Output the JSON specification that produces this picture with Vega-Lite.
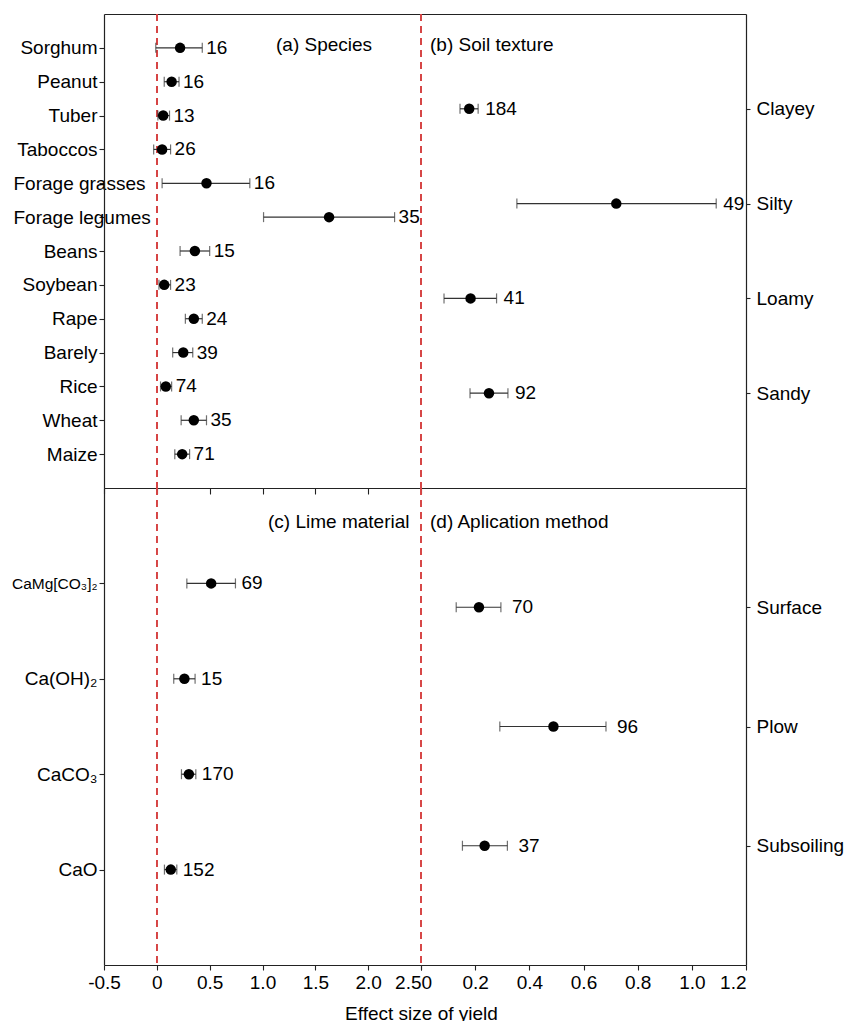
{
  "$schema": "https://vega.github.io/schema/vega-lite/v6.json",
  "padding": {"left": 11, "top": 13, "right": 0, "bottom": 0},
  "background": "white",
  "config": {
    "font": "Liberation Sans",
    "view": {"stroke": null},
    "axis": {"grid": false, "domainColor": "#222", "domainWidth": 1.2, "tickColor": "#222", "tickWidth": 1.1, "labelColor": "black", "labelFontSize": 19, "titleColor": "black", "titleFontSize": 19, "titleFontWeight": "normal"},
    "title": {"fontSize": 19, "fontWeight": "normal", "color": "black", "anchor": "start", "frame": "group", "offset": 0, "baseline": "middle"},
    "text": {"fontSize": 19, "color": "black"}
  },
  "datasets": {
    "species": [
      {"cat": "Sorghum", "est": 0.22, "lo": -0.01, "hi": 0.43, "n": 16},
      {"cat": "Peanut", "est": 0.14, "lo": 0.07, "hi": 0.21, "n": 16},
      {"cat": "Tuber", "est": 0.06, "lo": 0.01, "hi": 0.12, "n": 13},
      {"cat": "Taboccos", "est": 0.05, "lo": -0.03, "hi": 0.13, "n": 26},
      {"cat": "Forage grasses", "est": 0.47, "lo": 0.05, "hi": 0.88, "n": 16},
      {"cat": "Forage legumes", "est": 1.63, "lo": 1.01, "hi": 2.25, "n": 35},
      {"cat": "Beans", "est": 0.36, "lo": 0.22, "hi": 0.5, "n": 15},
      {"cat": "Soybean", "est": 0.07, "lo": 0.02, "hi": 0.13, "n": 23},
      {"cat": "Rape", "est": 0.35, "lo": 0.27, "hi": 0.43, "n": 24},
      {"cat": "Barely", "est": 0.25, "lo": 0.15, "hi": 0.34, "n": 39},
      {"cat": "Rice", "est": 0.085, "lo": 0.035, "hi": 0.14, "n": 74},
      {"cat": "Wheat", "est": 0.35, "lo": 0.23, "hi": 0.47, "n": 35},
      {"cat": "Maize", "est": 0.24, "lo": 0.17, "hi": 0.31, "n": 71}
    ],
    "soil": [
      {"cat": "Clayey", "est": 0.178, "lo": 0.144, "hi": 0.211, "n": 184},
      {"cat": "Silty", "est": 0.721, "lo": 0.354, "hi": 1.09, "n": 49},
      {"cat": "Loamy", "est": 0.183, "lo": 0.085, "hi": 0.279, "n": 41},
      {"cat": "Sandy", "est": 0.251, "lo": 0.181, "hi": 0.321, "n": 92}
    ],
    "lime": [
      {"cat": "CaMg[CO₃]₂", "est": 0.514, "lo": 0.284, "hi": 0.744, "n": 69},
      {"cat": "Ca(OH)₂", "est": 0.261, "lo": 0.16, "hi": 0.362, "n": 15},
      {"cat": "CaCO₃", "est": 0.303, "lo": 0.233, "hi": 0.369, "n": 170},
      {"cat": "CaO", "est": 0.132, "lo": 0.072, "hi": 0.189, "n": 152}
    ],
    "method": [
      {"cat": "Surface", "est": 0.214, "lo": 0.13, "hi": 0.295, "n": 70},
      {"cat": "Plow", "est": 0.489, "lo": 0.291, "hi": 0.683, "n": 96},
      {"cat": "Subsoiling", "est": 0.235, "lo": 0.153, "hi": 0.319, "n": 37}
    ]
  },
  "columns": 2,
  "spacing": 0,
  "bounds": "flush",
  "concat": [
    {
      "width": 317, "height": 474,
      "data": {"name": "species"},
      "title": {"text": "(a) Species", "dx": 172, "dy": 46},
      "resolve": {"axis": {"x": "independent", "y": "independent"}},
      "layer": [
        {"mark": {"type": "rule", "color": "#d64545", "strokeDash": [7, 5], "strokeWidth": 1.5},
         "encoding": {"x": {"datum": 0, "type": "quantitative", "scale": {"domain": [-0.5, 2.5], "nice": false, "zero": false}, "axis": null}}},
        {"mark": {"type": "rule", "color": "#333", "strokeWidth": 1.2},
         "encoding": {
           "x": {"field": "lo", "type": "quantitative", "scale": {"domain": [-0.5, 2.5], "nice": false, "zero": false},
                 "axis": {"orient": "bottom", "values": [-0.5, 0, 0.5, 1, 1.5, 2, 2.5], "labels": false, "tickSize": 6, "title": null}},
           "x2": {"field": "hi"},
           "y": {"field": "cat", "type": "nominal",
                 "scale": {"type": "point", "padding": 1, "domain": ["Sorghum", "Peanut", "Tuber", "Taboccos", "Forage grasses", "Forage legumes", "Beans", "Soybean", "Rape", "Barely", "Rice", "Wheat", "Maize"]},
                 "axis": {"orient": "left", "title": null, "tickSize": 5,
                          "labelPadding": {"condition": {"test": "indexof(['Forage grasses', 'Forage legumes'], datum.value) >= 0", "value": 86}, "value": 2},
                          "labelAlign": {"condition": {"test": "indexof(['Forage grasses', 'Forage legumes'], datum.value) >= 0", "value": "left"}, "value": "right"}}}
         }},
        {"mark": {"type": "tick", "color": "#333", "thickness": 1.2, "size": 10},
         "encoding": {"x": {"field": "lo", "type": "quantitative", "axis": null}, "y": {"field": "cat", "type": "nominal", "axis": null}}},
        {"mark": {"type": "tick", "color": "#333", "thickness": 1.2, "size": 10},
         "encoding": {"x": {"field": "hi", "type": "quantitative", "axis": null}, "y": {"field": "cat", "type": "nominal", "axis": null}}},
        {"mark": {"type": "point", "filled": true, "color": "black", "opacity": 1, "size": 110},
         "encoding": {"x": {"field": "est", "type": "quantitative", "axis": {"orient": "top", "ticks": false, "labels": false, "title": null}},
                      "y": {"field": "cat", "type": "nominal", "axis": null}}},
        {"mark": {"type": "text", "align": "left", "baseline": "middle", "dx": 4},
         "encoding": {"x": {"field": "hi", "type": "quantitative", "axis": null}, "y": {"field": "cat", "type": "nominal", "axis": null}, "text": {"field": "n"}}}
      ]
    },
    {
      "width": 325, "height": 474,
      "data": {"name": "soil"},
      "title": {"text": "(b) Soil texture", "dx": 9, "dy": 46},
      "resolve": {"axis": {"x": "independent", "y": "independent"}},
      "layer": [
        {"mark": {"type": "rule", "color": "#d64545", "strokeDash": [7, 5], "strokeWidth": 1.5},
         "encoding": {"x": {"datum": 0, "type": "quantitative", "scale": {"domain": [0, 1.2], "nice": false}, "axis": null}}},
        {"mark": {"type": "rule", "color": "#333", "strokeWidth": 1.2},
         "encoding": {
           "x": {"field": "lo", "type": "quantitative", "scale": {"domain": [0, 1.2], "nice": false},
                 "axis": {"orient": "bottom", "ticks": false, "labels": false, "title": null}},
           "x2": {"field": "hi"},
           "y": {"field": "cat", "type": "nominal",
                 "scale": {"type": "point", "padding": 1, "domain": ["Clayey", "Silty", "Loamy", "Sandy"]},
                 "axis": {"orient": "right", "title": null, "tickSize": 4, "labelPadding": 6}}
         }},
        {"mark": {"type": "tick", "color": "#333", "thickness": 1.2, "size": 10},
         "encoding": {"x": {"field": "lo", "type": "quantitative", "axis": null}, "y": {"field": "cat", "type": "nominal", "axis": null}}},
        {"mark": {"type": "tick", "color": "#333", "thickness": 1.2, "size": 10},
         "encoding": {"x": {"field": "hi", "type": "quantitative", "axis": null}, "y": {"field": "cat", "type": "nominal", "axis": null}}},
        {"mark": {"type": "point", "filled": true, "color": "black", "opacity": 1, "size": 110},
         "encoding": {"x": {"field": "est", "type": "quantitative", "axis": {"orient": "top", "ticks": false, "labels": false, "title": null}},
                      "y": {"field": "cat", "type": "nominal", "axis": null}}},
        {"mark": {"type": "text", "align": "left", "baseline": "middle", "dx": 7},
         "encoding": {"x": {"field": "hi", "type": "quantitative", "axis": null}, "y": {"field": "cat", "type": "nominal", "axis": null}, "text": {"field": "n"}}}
      ]
    },
    {
      "width": 317, "height": 477,
      "data": {"name": "lime"},
      "title": {"text": "(c) Lime material", "dx": 164, "dy": 49},
      "resolve": {"axis": {"x": "independent", "y": "independent"}},
      "layer": [
        {"mark": {"type": "rule", "color": "#d64545", "strokeDash": [7, 5], "strokeWidth": 1.5},
         "encoding": {"x": {"datum": 0, "type": "quantitative", "scale": {"domain": [-0.5, 2.5], "nice": false, "zero": false}, "axis": null}}},
        {"mark": {"type": "rule", "color": "#333", "strokeWidth": 1.2},
         "encoding": {
           "x": {"field": "lo", "type": "quantitative", "scale": {"domain": [-0.5, 2.5], "nice": false, "zero": false},
                 "axis": {"orient": "bottom", "values": [-0.5, 0, 0.5, 1, 1.5, 2, 2.5], "tickSize": 5, "labelPadding": 3,
                          "labelExpr": "datum.value == 0 ? '0' : replace(format(datum.value, '.1f'), '\u2212', '-')",
                          "labelAlign": {"condition": {"test": "datum.value == 2.5", "value": "right"}, "value": "center"},
                          "title": "Effect size of yield", "titleX": 317, "titleY": 54, "titleAlign": "center", "titleBaseline": "alphabetic"}},
           "x2": {"field": "hi"},
           "y": {"field": "cat", "type": "nominal",
                 "scale": {"type": "point", "padding": 1, "domain": ["CaMg[CO₃]₂", "Ca(OH)₂", "CaCO₃", "CaO"]},
                 "axis": {"orient": "left", "title": null, "tickSize": 5, "labelPadding": 2,
                          "labelFontSize": {"condition": {"test": "datum.value == 'CaMg[CO₃]₂'", "value": 15.5}, "value": 19}}}
         }},
        {"mark": {"type": "tick", "color": "#333", "thickness": 1.2, "size": 10},
         "encoding": {"x": {"field": "lo", "type": "quantitative", "axis": null}, "y": {"field": "cat", "type": "nominal", "axis": null}}},
        {"mark": {"type": "tick", "color": "#333", "thickness": 1.2, "size": 10},
         "encoding": {"x": {"field": "hi", "type": "quantitative", "axis": null}, "y": {"field": "cat", "type": "nominal", "axis": null}}},
        {"mark": {"type": "point", "filled": true, "color": "black", "opacity": 1, "size": 110},
         "encoding": {"x": {"field": "est", "type": "quantitative", "axis": null}, "y": {"field": "cat", "type": "nominal", "axis": null}}},
        {"mark": {"type": "text", "align": "left", "baseline": "middle", "dx": 6},
         "encoding": {"x": {"field": "hi", "type": "quantitative", "axis": null}, "y": {"field": "cat", "type": "nominal", "axis": null}, "text": {"field": "n"}}}
      ]
    },
    {
      "width": 325, "height": 477,
      "data": {"name": "method"},
      "title": {"text": "(d) Aplication method", "dx": 9, "dy": 49},
      "resolve": {"axis": {"x": "independent", "y": "independent"}},
      "layer": [
        {"mark": {"type": "rule", "color": "#d64545", "strokeDash": [7, 5], "strokeWidth": 1.5},
         "encoding": {"x": {"datum": 0, "type": "quantitative", "scale": {"domain": [0, 1.2], "nice": false}, "axis": null}}},
        {"mark": {"type": "rule", "color": "#333", "strokeWidth": 1.2},
         "encoding": {
           "x": {"field": "lo", "type": "quantitative", "scale": {"domain": [0, 1.2], "nice": false},
                 "axis": {"orient": "bottom", "values": [0, 0.2, 0.4, 0.6, 0.8, 1, 1.2], "tickSize": 5, "labelPadding": 3, "labelFlush": true,
                          "labelExpr": "datum.value == 0 ? '0' : format(datum.value, '.1f')", "title": null}},
           "x2": {"field": "hi"},
           "y": {"field": "cat", "type": "nominal",
                 "scale": {"type": "point", "padding": 1, "domain": ["Surface", "Plow", "Subsoiling"]},
                 "axis": {"orient": "right", "title": null, "tickSize": 4, "labelPadding": 6}}
         }},
        {"mark": {"type": "tick", "color": "#333", "thickness": 1.2, "size": 10},
         "encoding": {"x": {"field": "lo", "type": "quantitative", "axis": null}, "y": {"field": "cat", "type": "nominal", "axis": null}}},
        {"mark": {"type": "tick", "color": "#333", "thickness": 1.2, "size": 10},
         "encoding": {"x": {"field": "hi", "type": "quantitative", "axis": null}, "y": {"field": "cat", "type": "nominal", "axis": null}}},
        {"mark": {"type": "point", "filled": true, "color": "black", "opacity": 1, "size": 110},
         "encoding": {"x": {"field": "est", "type": "quantitative", "axis": null}, "y": {"field": "cat", "type": "nominal", "axis": null}}},
        {"mark": {"type": "text", "align": "left", "baseline": "middle", "dx": 11},
         "encoding": {"x": {"field": "hi", "type": "quantitative", "axis": null}, "y": {"field": "cat", "type": "nominal", "axis": null}, "text": {"field": "n"}}}
      ]
    }
  ]
}
